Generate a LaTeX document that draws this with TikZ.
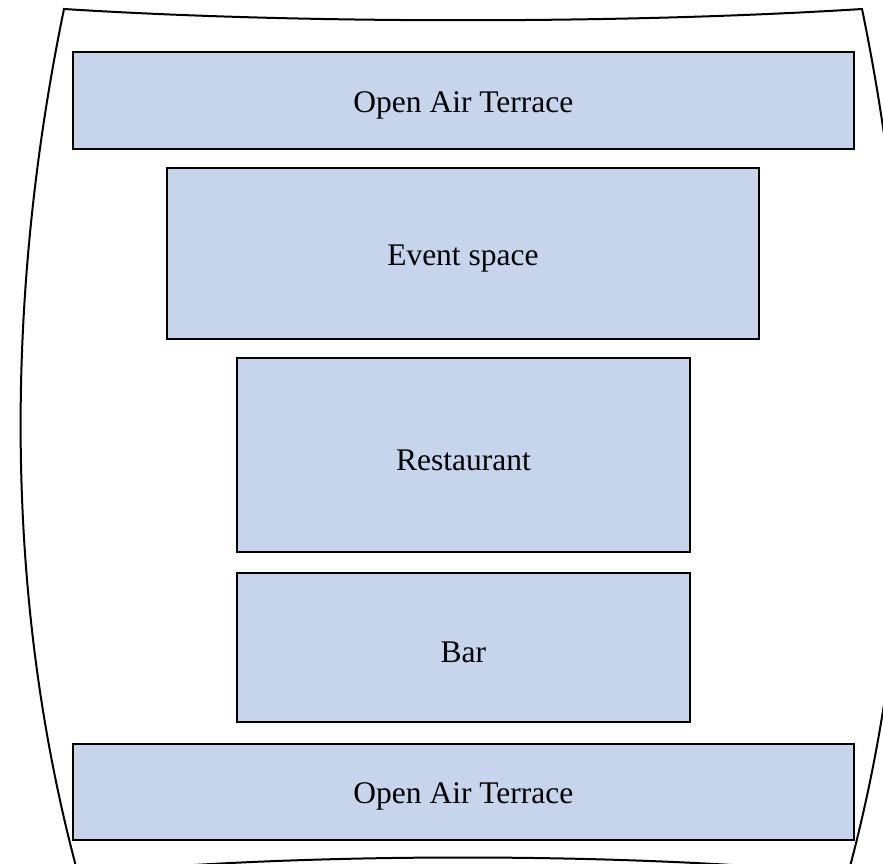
\documentclass[tikz,border=0pt]{standalone}
\usepackage{fontspec}
\setmainfont{Liberation Serif}
\definecolor{roomfill}{HTML}{C6D4EC}
\begin{document}
\begin{tikzpicture}[x=1pt,y=-1pt,
  room/.style={draw=black,line width=1.8pt,fill=roomfill,anchor=north west,inner sep=0pt},
  lbl/.style={font=\fontsize{31.5}{36}\selectfont,inner sep=0pt},
  outline/.style={draw=black,line width=2pt}]
\useasboundingbox (0,0) rectangle (883,864);
\clip (0,0) rectangle (883,864);
\draw[outline] (64,9) .. controls (300,24) and (626,24) .. (862,9)
  .. controls (922,300) and (922,600) .. (848,874)
  .. controls (626,852) and (300,852) .. (78,874)
  .. controls (4,600) and (4,300) .. cycle;
\node[room,minimum width=781pt,minimum height=97pt] (t1) at (72,51) {};
\node[lbl] at ([yshift=-5.5pt]t1.center) (t1l) {Open Air Terrace};
\node[room,minimum width=592pt,minimum height=171pt] (ev) at (166,167) {};
\node[lbl] at ([yshift=-5.5pt]ev.center) (evl) {Event space};
\node[room,minimum width=453pt,minimum height=194pt] (re) at (236,357) {};
\node[lbl] at ([yshift=-5.5pt]re.center) (rel) {Restaurant};
\node[room,minimum width=453pt,minimum height=149pt] (ba) at (236,572) {};
\node[lbl] at ([yshift=-5pt]ba.center) (bal) {Bar};
\node[room,minimum width=781pt,minimum height=96pt] (t2) at (72,743) {};
\node[lbl] at ([yshift=-5pt]t2.center) (t2l) {Open Air Terrace};
\end{tikzpicture}
\end{document}
